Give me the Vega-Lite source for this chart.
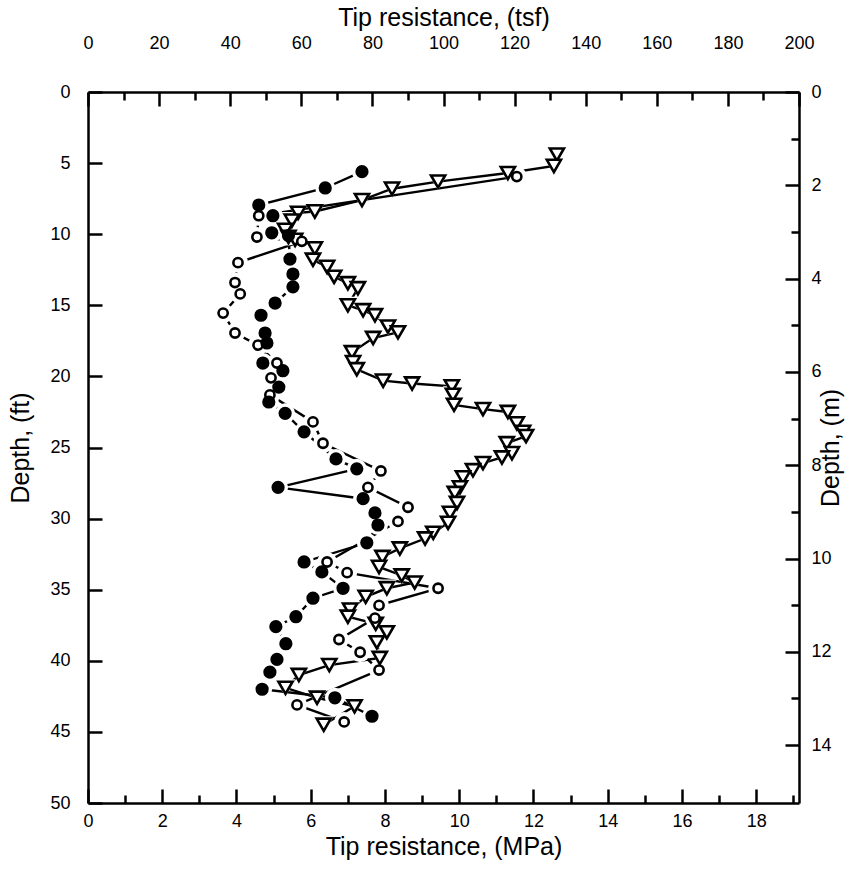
{
  "$schema": "https://vega.github.io/schema/vega-lite/v6.json",
  "width": 711,
  "height": 711,
  "autosize": "none",
  "padding": {"left": 88, "top": 92, "right": 54, "bottom": 69},
  "background": "white",
  "config": {
    "view": {"stroke": null},
    "axis": {
      "grid": false, "domainColor": "black", "domainWidth": 2.5, "tickColor": "black", "tickWidth": 2.5,
      "labelColor": "black", "titleColor": "black", "labelFont": "Liberation Sans", "titleFont": "Liberation Sans",
      "labelFontSize": 18, "titleFontSize": 25, "titleFontWeight": "normal", "labelFlush": false, "labelOverlap": false
    }
  },
  "datasets": {
    "cpt": [
      {"s": "filled", "depth": 5.6, "mpa": 7.38}, {"s": "filled", "depth": 6.75, "mpa": 6.39}, {"s": "filled", "depth": 7.95, "mpa": 4.6},
      {"s": "filled", "depth": 8.7, "mpa": 4.98}, {"s": "filled", "depth": 9.9, "mpa": 4.95}, {"s": "filled", "depth": 10.1, "mpa": 5.4},
      {"s": "filled", "depth": 11.75, "mpa": 5.44}, {"s": "filled", "depth": 12.8, "mpa": 5.52}, {"s": "filled", "depth": 13.7, "mpa": 5.52},
      {"s": "filled", "depth": 14.84, "mpa": 5.04}, {"s": "filled", "depth": 15.7, "mpa": 4.66}, {"s": "filled", "depth": 16.95, "mpa": 4.77},
      {"s": "filled", "depth": 17.65, "mpa": 4.82}, {"s": "filled", "depth": 19.06, "mpa": 4.71}, {"s": "filled", "depth": 19.6, "mpa": 5.25},
      {"s": "filled", "depth": 20.75, "mpa": 5.14}, {"s": "filled", "depth": 21.8, "mpa": 4.87}, {"s": "filled", "depth": 22.6, "mpa": 5.31},
      {"s": "filled", "depth": 23.9, "mpa": 5.82}, {"s": "filled", "depth": 25.8, "mpa": 6.68}, {"s": "filled", "depth": 26.5, "mpa": 7.24},
      {"s": "filled", "depth": 27.8, "mpa": 5.12}, {"s": "filled", "depth": 28.6, "mpa": 7.41}, {"s": "filled", "depth": 29.6, "mpa": 7.73},
      {"s": "filled", "depth": 30.45, "mpa": 7.81}, {"s": "filled", "depth": 31.7, "mpa": 7.51}, {"s": "filled", "depth": 33.05, "mpa": 5.82},
      {"s": "filled", "depth": 33.75, "mpa": 6.3}, {"s": "filled", "depth": 34.9, "mpa": 6.87}, {"s": "filled", "depth": 35.6, "mpa": 6.06},
      {"s": "filled", "depth": 36.9, "mpa": 5.6}, {"s": "filled", "depth": 37.6, "mpa": 5.06}, {"s": "filled", "depth": 38.8, "mpa": 5.33},
      {"s": "filled", "depth": 39.9, "mpa": 5.09}, {"s": "filled", "depth": 40.8, "mpa": 4.9}, {"s": "filled", "depth": 42.0, "mpa": 4.69},
      {"s": "filled", "depth": 42.6, "mpa": 6.65}, {"s": "filled", "depth": 43.9, "mpa": 7.65},

      {"s": "open", "depth": 5.95, "mpa": 11.55}, {"s": "open", "depth": 8.7, "mpa": 4.6}, {"s": "open", "depth": 10.2, "mpa": 4.55},
      {"s": "open", "depth": 10.5, "mpa": 5.76}, {"s": "open", "depth": 12.0, "mpa": 4.04}, {"s": "open", "depth": 13.4, "mpa": 3.96},
      {"s": "open", "depth": 14.2, "mpa": 4.1}, {"s": "open", "depth": 15.55, "mpa": 3.64}, {"s": "open", "depth": 16.95, "mpa": 3.96},
      {"s": "open", "depth": 17.8, "mpa": 4.58}, {"s": "open", "depth": 19.06, "mpa": 5.09}, {"s": "open", "depth": 20.1, "mpa": 4.93},
      {"s": "open", "depth": 21.3, "mpa": 4.9}, {"s": "open", "depth": 23.2, "mpa": 6.06}, {"s": "open", "depth": 24.7, "mpa": 6.33},
      {"s": "open", "depth": 26.65, "mpa": 7.89}, {"s": "open", "depth": 27.8, "mpa": 7.54}, {"s": "open", "depth": 29.2, "mpa": 8.62},
      {"s": "open", "depth": 30.2, "mpa": 8.35}, {"s": "open", "depth": 33.05, "mpa": 6.44}, {"s": "open", "depth": 33.8, "mpa": 6.98},
      {"s": "open", "depth": 34.9, "mpa": 9.43}, {"s": "open", "depth": 36.1, "mpa": 7.84}, {"s": "open", "depth": 37.0, "mpa": 7.73},
      {"s": "open", "depth": 38.5, "mpa": 6.76}, {"s": "open", "depth": 39.4, "mpa": 7.33}, {"s": "open", "depth": 40.65, "mpa": 7.84},
      {"s": "open", "depth": 43.1, "mpa": 5.63}, {"s": "open", "depth": 44.3, "mpa": 6.9},

      {"s": "tri", "depth": 4.4, "mpa": 12.63}, {"s": "tri", "depth": 5.2, "mpa": 12.55}, {"s": "tri", "depth": 5.7, "mpa": 11.31},
      {"s": "tri", "depth": 6.3, "mpa": 9.43}, {"s": "tri", "depth": 6.8, "mpa": 8.19}, {"s": "tri", "depth": 7.6, "mpa": 7.38},
      {"s": "tri", "depth": 8.4, "mpa": 6.11}, {"s": "tri", "depth": 8.5, "mpa": 5.66}, {"s": "tri", "depth": 9.05, "mpa": 5.49},
      {"s": "tri", "depth": 9.7, "mpa": 5.31}, {"s": "tri", "depth": 10.2, "mpa": 5.4}, {"s": "tri", "depth": 10.4, "mpa": 5.58},
      {"s": "tri", "depth": 11.0, "mpa": 6.11}, {"s": "tri", "depth": 11.8, "mpa": 6.06}, {"s": "tri", "depth": 12.3, "mpa": 6.44},
      {"s": "tri", "depth": 13.0, "mpa": 6.63}, {"s": "tri", "depth": 13.45, "mpa": 7.0}, {"s": "tri", "depth": 13.8, "mpa": 7.27},
      {"s": "tri", "depth": 15.0, "mpa": 7.0}, {"s": "tri", "depth": 15.35, "mpa": 7.41}, {"s": "tri", "depth": 15.7, "mpa": 7.73},
      {"s": "tri", "depth": 16.5, "mpa": 8.08}, {"s": "tri", "depth": 16.9, "mpa": 8.35}, {"s": "tri", "depth": 17.3, "mpa": 7.68},
      {"s": "tri", "depth": 18.3, "mpa": 7.11}, {"s": "tri", "depth": 19.0, "mpa": 7.14}, {"s": "tri", "depth": 19.5, "mpa": 7.24},
      {"s": "tri", "depth": 20.3, "mpa": 7.95}, {"s": "tri", "depth": 20.5, "mpa": 8.73}, {"s": "tri", "depth": 20.7, "mpa": 9.8},
      {"s": "tri", "depth": 21.3, "mpa": 9.83}, {"s": "tri", "depth": 22.0, "mpa": 9.86}, {"s": "tri", "depth": 22.3, "mpa": 10.64},
      {"s": "tri", "depth": 22.5, "mpa": 11.31}, {"s": "tri", "depth": 23.3, "mpa": 11.55}, {"s": "tri", "depth": 23.9, "mpa": 11.72},
      {"s": "tri", "depth": 24.2, "mpa": 11.8}, {"s": "tri", "depth": 24.7, "mpa": 11.28}, {"s": "tri", "depth": 25.4, "mpa": 11.42},
      {"s": "tri", "depth": 25.7, "mpa": 11.15}, {"s": "tri", "depth": 26.1, "mpa": 10.64}, {"s": "tri", "depth": 26.6, "mpa": 10.37},
      {"s": "tri", "depth": 27.1, "mpa": 10.1}, {"s": "tri", "depth": 27.8, "mpa": 10.02}, {"s": "tri", "depth": 28.2, "mpa": 9.88},
      {"s": "tri", "depth": 28.9, "mpa": 9.94}, {"s": "tri", "depth": 29.6, "mpa": 9.75}, {"s": "tri", "depth": 30.3, "mpa": 9.7},
      {"s": "tri", "depth": 31.0, "mpa": 9.3}, {"s": "tri", "depth": 31.4, "mpa": 9.08}, {"s": "tri", "depth": 32.1, "mpa": 8.4},
      {"s": "tri", "depth": 32.7, "mpa": 7.93}, {"s": "tri", "depth": 33.4, "mpa": 7.84}, {"s": "tri", "depth": 34.0, "mpa": 8.45},
      {"s": "tri", "depth": 34.5, "mpa": 8.8}, {"s": "tri", "depth": 34.9, "mpa": 8.05}, {"s": "tri", "depth": 35.5, "mpa": 7.48},
      {"s": "tri", "depth": 36.4, "mpa": 7.06}, {"s": "tri", "depth": 36.9, "mpa": 7.0}, {"s": "tri", "depth": 37.4, "mpa": 7.75},
      {"s": "tri", "depth": 38.0, "mpa": 8.05}, {"s": "tri", "depth": 38.7, "mpa": 7.78}, {"s": "tri", "depth": 39.8, "mpa": 7.86},
      {"s": "tri", "depth": 40.3, "mpa": 6.5}, {"s": "tri", "depth": 41.0, "mpa": 5.68}, {"s": "tri", "depth": 41.9, "mpa": 5.32},
      {"s": "tri", "depth": 42.6, "mpa": 6.17}, {"s": "tri", "depth": 43.2, "mpa": 7.18}, {"s": "tri", "depth": 44.5, "mpa": 6.35}
    ]
  },
  "layer": [
    {
      "data": {"name": "cpt"},
      "mark": {"type": "line", "color": "black", "strokeWidth": 2.4},
      "encoding": {
        "x": {"field": "mpa", "type": "quantitative", "scale": {"domain": [0, 19.152], "nice": false, "zero": false}, "axis": null},
        "y": {"field": "depth", "type": "quantitative", "scale": {"domain": [0, 50], "reverse": true, "nice": false}, "axis": null},
        "detail": {"field": "s", "type": "nominal"},
        "order": {"field": "depth", "type": "quantitative"}
      }
    },
    {
      "data": {"name": "cpt"},
      "mark": {"type": "point", "filled": true, "color": "white", "opacity": 1, "size": 400},
      "encoding": {
        "x": {"field": "mpa", "type": "quantitative", "scale": {"domain": [0, 19.152], "nice": false, "zero": false}, "axis": null},
        "y": {"field": "depth", "type": "quantitative", "scale": {"domain": [0, 50], "reverse": true, "nice": false}, "axis": null},
        "shape": {"field": "s", "type": "nominal", "scale": {"domain": ["filled", "open", "tri"], "range": ["circle", "circle", "triangle-down"]}, "legend": null}
      }
    },
    {
      "data": {"name": "cpt"},
      "transform": [{"filter": "datum.s === 'tri'"}],
      "mark": {"type": "point", "shape": "triangle-down", "size": 200, "fill": "white", "stroke": "black", "strokeWidth": 2.6, "opacity": 1},
      "encoding": {
        "x": {"field": "mpa", "type": "quantitative", "scale": {"domain": [0, 19.152], "nice": false, "zero": false}, "axis": null},
        "y": {"field": "depth", "type": "quantitative", "scale": {"domain": [0, 50], "reverse": true, "nice": false}, "axis": null}
      }
    },
    {
      "data": {"name": "cpt"},
      "transform": [{"filter": "datum.s === 'open'"}],
      "mark": {"type": "point", "shape": "circle", "size": 85, "fill": "white", "stroke": "black", "strokeWidth": 2.6, "opacity": 1},
      "encoding": {
        "x": {"field": "mpa", "type": "quantitative", "scale": {"domain": [0, 19.152], "nice": false, "zero": false}, "axis": null},
        "y": {"field": "depth", "type": "quantitative", "scale": {"domain": [0, 50], "reverse": true, "nice": false}, "axis": null}
      }
    },
    {
      "data": {"name": "cpt"},
      "transform": [{"filter": "datum.s === 'filled'"}],
      "mark": {"type": "point", "shape": "circle", "size": 115, "fill": "black", "stroke": "black", "strokeWidth": 2.5, "opacity": 1},
      "encoding": {
        "x": {"field": "mpa", "type": "quantitative", "scale": {"domain": [0, 19.152], "nice": false, "zero": false},
              "axis": {"orient": "bottom", "values": [0, 2, 4, 6, 8, 10, 12, 14, 16, 18], "tickSize": -14, "labelPadding": 23, "title": "Tip resistance, (MPa)", "titlePadding": 4}},
        "y": {"field": "depth", "type": "quantitative", "scale": {"domain": [0, 50], "reverse": true, "nice": false},
              "axis": {"orient": "left", "values": [0, 5, 10, 15, 20, 25, 30, 35, 40, 45, 50], "tickSize": -14, "labelPadding": 32, "title": "Depth, (ft)", "titlePadding": 16}}
      }
    },
    {
      "data": {"values": [{"v": 0}, {"v": 19}]},
      "mark": {"type": "point", "opacity": 0},
      "encoding": {
        "x": {"field": "v", "type": "quantitative", "scale": {"domain": [0, 19.152], "nice": false, "zero": false},
              "axis": {"orient": "bottom", "values": [1, 3, 5, 7, 9, 11, 13, 15, 17, 19], "tickSize": -8, "labels": false, "domain": false, "title": null}}
      }
    },
    {
      "data": {"values": [{"tsf": 0}, {"tsf": 200}]},
      "mark": {"type": "point", "opacity": 0},
      "encoding": {
        "x": {"field": "tsf", "type": "quantitative", "scale": {"domain": [0, 200], "nice": false, "zero": false},
              "axis": {"orient": "top", "values": [0, 20, 40, 60, 80, 100, 120, 140, 160, 180, 200], "tickSize": -14, "labelPadding": 54, "title": "Tip resistance, (tsf)", "titlePadding": 4}}
      }
    },
    {
      "data": {"values": [{"tsf": 0}, {"tsf": 200}]},
      "mark": {"type": "point", "opacity": 0},
      "encoding": {
        "x": {"field": "tsf", "type": "quantitative", "scale": {"domain": [0, 200], "nice": false, "zero": false},
              "axis": {"orient": "top", "values": [10, 30, 50, 70, 90, 110, 130, 150, 170, 190], "tickSize": -8, "labels": false, "domain": false, "title": null}}
      }
    },
    {
      "data": {"values": [{"m": 0}, {"m": 15.24}]},
      "mark": {"type": "point", "opacity": 0},
      "encoding": {
        "y": {"field": "m", "type": "quantitative", "scale": {"domain": [0, 15.24], "reverse": true, "nice": false, "zero": false},
              "axis": {"orient": "right", "values": [0, 2, 4, 6, 8, 10, 12, 14], "tickSize": -14, "labelPadding": 26, "title": "Depth, (m)", "titleAngle": 270, "titlePadding": 12}}
      }
    },
    {
      "data": {"values": [{"m": 0}, {"m": 15.24}]},
      "mark": {"type": "point", "opacity": 0},
      "encoding": {
        "y": {"field": "m", "type": "quantitative", "scale": {"domain": [0, 15.24], "reverse": true, "nice": false, "zero": false},
              "axis": {"orient": "right", "values": [1, 3, 5, 7, 9, 11, 13], "tickSize": -8, "labels": false, "domain": false, "title": null}}
      }
    }
  ],
  "resolve": {
    "scale": {"x": "independent", "y": "independent"},
    "axis": {"x": "independent", "y": "independent"}
  }
}
